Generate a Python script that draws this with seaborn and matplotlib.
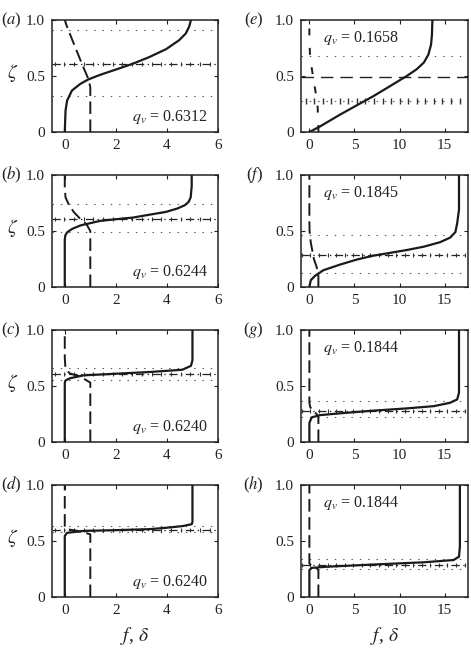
import numpy as np
import pandas as pd
import matplotlib
matplotlib.use("Agg")
import matplotlib.pyplot as plt
import seaborn as sns

# ---------------- data ----------------
panel_ids = ["a", "b", "c", "d", "e", "f", "g", "h"]
qv_text = ["0.6312", "0.6244", "0.6240", "0.6240", "0.1658", "0.1845", "0.1844", "0.1844"]

# solid curves f(zeta)
f_a = [0, 0.03, 0.09, 0.28, 0.61, 0.93, 1.38, 2.03, 2.67, 3.32, 3.97, 4.48, 4.74, 4.87, 4.94]
zf_a = [0, 0.19, 0.28, 0.37, 0.43, 0.47, 0.51, 0.56, 0.61, 0.67, 0.74, 0.82, 0.88, 0.94, 1.0]
f_b = [0, 0, 0.02, 0.1, 0.3, 0.62, 1.38, 2.0, 2.67, 3.3, 3.95, 4.4, 4.7, 4.85, 4.93, 4.97, 4.97]
zf_b = [0, 0.42, 0.46, 0.49, 0.52, 0.55, 0.59, 0.605, 0.62, 0.645, 0.67, 0.70, 0.73, 0.76, 0.8, 0.9, 1.0]
f_c = [0, 0, 0.03, 0.22, 0.74, 2.03, 3.32, 4.6, 4.94, 5.0, 5.0]
zf_c = [0, 0.53, 0.55, 0.57, 0.595, 0.61, 0.625, 0.645, 0.68, 0.73, 1.0]
f_d = [0, 0, 0.09, 0.74, 2.03, 3.32, 3.97, 4.61, 4.97, 5.0, 5.0]
zf_d = [0, 0.545, 0.573, 0.59, 0.597, 0.606, 0.618, 0.633, 0.65, 0.67, 1.0]
f_e = [0, 1.19, 3.4, 5.3, 7.1, 8.96, 10.8, 11.9, 12.7, 13.2, 13.5, 13.6, 13.65]
zf_e = [0, 0.05, 0.155, 0.24, 0.32, 0.41, 0.5, 0.56, 0.62, 0.69, 0.78, 0.87, 1.0]
f_f = [0, 0.15, 0.63, 1.56, 3.4, 5.26, 7.1, 8.96, 10.8, 12.7, 14.5, 15.6, 16.2, 16.4, 16.6, 16.6]
zf_f = [0, 0.06, 0.10, 0.15, 0.20, 0.245, 0.28, 0.305, 0.33, 0.36, 0.40, 0.44, 0.49, 0.57, 0.69, 1.0]
f_g = [0, 0, 0.26, 1.19, 3.4, 7.1, 10.8, 13.8, 15.6, 16.4, 16.6, 16.6]
zf_g = [0, 0.17, 0.22, 0.24, 0.256, 0.28, 0.30, 0.32, 0.35, 0.38, 0.44, 1.0]
f_h = [0, 0, 0.26, 1.9, 7.1, 12.7, 16.0, 16.6, 16.7, 16.7]
zf_h = [0, 0.24, 0.26, 0.27, 0.29, 0.31, 0.33, 0.36, 0.45, 1.0]

# dashed curves delta(zeta)
d_a = [1, 1, 0.93, 0.67, 0.35, 0.09, 0]
zd_a = [0, 0.40, 0.47, 0.61, 0.79, 0.94, 1.0]
d_b = [1, 1, 0.85, 0.6, 0.35, 0.15, 0.03, 0, 0]
zd_b = [0, 0.5, 0.56, 0.61, 0.67, 0.74, 0.8, 0.88, 1.0]
d_c = [1, 1, 0.6, 0.22, 0.06, 0.02, 0, 0]
zd_c = [0, 0.53, 0.585, 0.61, 0.64, 0.68, 0.75, 1.0]
d_d = [1, 1, 0.5, 0.1, 0, 0]
zd_d = [0, 0.56, 0.59, 0.605, 0.62, 1.0]
d_e = [1, 1, 0.9, 0.5, 0.1, 0, 0]
zd_e = [0, 0.05, 0.25, 0.45, 0.65, 0.8, 1.0]
d_f = [1, 1, 0.8, 0.5, 0.15, 0.02, 0, 0]
zd_f = [0, 0.1, 0.18, 0.25, 0.4, 0.5, 0.6, 1.0]
d_g = [1, 1, 0.8, 0.4, 0.1, 0, 0]
zd_g = [0, 0.22, 0.25, 0.28, 0.31, 0.35, 1.0]
d_h = [1, 1, 0.7, 0.2, 0, 0]
zd_h = [0, 0.24, 0.265, 0.28, 0.3, 1.0]

# horizontal reference levels
z_mid = [0.61, 0.61, 0.61, 0.60, 0.49, 0.29, 0.28, 0.29]
z_hi = [0.91, 0.74, 0.66, 0.63, 0.68, 0.46, 0.37, 0.34]
z_lo = [0.32, 0.49, 0.55, 0.58, 0.28, 0.125, 0.22, 0.25]

f_list = [f_a, f_b, f_c, f_d, f_e, f_f, f_g, f_h]
zf_list = [zf_a, zf_b, zf_c, zf_d, zf_e, zf_f, zf_g, zf_h]
d_list = [d_a, d_b, d_c, d_d, d_e, d_f, d_g, d_h]
zd_list = [zd_a, zd_b, zd_c, zd_d, zd_e, zd_f, zd_g, zd_h]

# ---------------- style ----------------
sns.set_style("ticks")
plt.rcParams["font.family"] = ["Liberation Serif", "DejaVu Serif"]
plt.rcParams["mathtext.fontset"] = "stix"
plt.rcParams["lines.scale_dashes"] = False

W, H = 471, 649
fig = plt.figure(figsize=(W / 100, H / 100), dpi=100)

col_left = [52, 301]
col_width = [166, 167]
row_top = [20, 175, 330, 485]
row_h = 112

for i, pid in enumerate(panel_ids):
    col = 0 if i < 4 else 1
    row = i % 4
    l = col_left[col] / W
    b = 1 - (row_top[row] + row_h) / H
    ax = fig.add_axes([l, b, col_width[col] / W, row_h / H])

    if col == 0:
        xlim = (-0.5, 6.0)
        xticks = [0, 2, 4, 6]
        tick_step = 0.38
    else:
        xlim = (-0.93, 17.6)
        xticks = [0, 5, 10, 15]
        tick_step = 0.95

    grey = "#555555"
    # dotted levels
    ax.axhline(z_hi[i], color=grey, lw=0.8, ls=(0, (1, 5)))
    ax.axhline(z_lo[i], color=grey, lw=0.8, ls=(0, (1, 5)))
    if pid == "e":
        ax.axhline(z_mid[i], color="#222222", lw=1.0, ls=(0, (9, 5)))
        xs = np.arange(xlim[0] + 0.5, xlim[1], tick_step)
        ax.plot(xs, [z_lo[i]] * len(xs), ls="none", marker="|", ms=5, mew=1.0, color="#333333")
    else:
        ax.axhline(z_mid[i], color="#222222", lw=0.9, ls=(0, (6, 2.5, 1, 2.5)))
        xs = np.arange(xlim[0] + 0.1, xlim[1], tick_step)
        ax.plot(xs, [z_mid[i]] * len(xs), ls="none", marker="|", ms=3.5, mew=0.8, color="#333333")

    df_f = pd.DataFrame({"x": f_list[i], "z": zf_list[i]})
    df_d = pd.DataFrame({"x": d_list[i], "z": zd_list[i]})
    dash_pat = (0, (5, 9)) if pid == "e" else (0, (9, 4))
    sns.lineplot(data=df_d, x="x", y="z", sort=False, estimator=None, ax=ax,
                 color="#1a1a1a", lw=1.4, linestyle=dash_pat)
    sns.lineplot(data=df_f, x="x", y="z", sort=False, estimator=None, ax=ax,
                 color="#1a1a1a", lw=1.6)

    ax.set_xlim(*xlim)
    ax.set_ylim(0, 1)
    ax.set_xticks(xticks)
    ax.set_xticklabels([str(t) for t in xticks])
    ax.set_yticks([0, 0.5, 1.0])
    ax.set_yticklabels(["0", "0.5", "1.0"])
    ax.tick_params(direction="in", length=3, width=0.8, top=True, right=True,
                   labelsize=11, pad=5, colors="#222222")
    ax.set_xlabel("")
    ax.set_ylabel("")
    for s in ax.spines.values():
        s.set_linewidth(1.1)
        s.set_color("#222222")

    # panel letter
    ax.text(-0.185 if col == 0 else -0.225, 1.0, "($%s$)" % pid, transform=ax.transAxes,
            ha="right", va="center", fontsize=12, color="#222222")
    if col == 0:
        ax.text(-0.24, 0.53, r"$\zeta$", transform=ax.transAxes, ha="center", va="center",
                fontsize=14, color="#222222")
        ax.text(0.94, 0.13, r"$q_v$ = " + qv_text[i], transform=ax.transAxes,
                ha="right", va="center", fontsize=11.5, color="#222222")
    else:
        ax.text(0.13, 0.84, r"$q_v$ = " + qv_text[i], transform=ax.transAxes,
                ha="left", va="center", fontsize=11.5, color="#222222")
    if row == 3:
        ax.set_xlabel(r"$f$, $\delta$", fontsize=14, labelpad=6, color="#222222")

fig.savefig("out.png", dpi=100)
